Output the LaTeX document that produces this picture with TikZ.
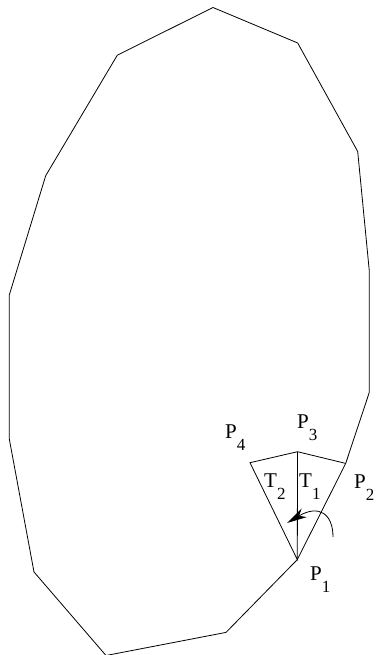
\documentclass[tikz,border=0pt]{standalone}
\usepackage{fontspec}
\setmainfont{Liberation Serif}
\usetikzlibrary{arrows.meta}
\newcommand{\sublbl}[2]{#1\raisebox{-12pt}{\fontsize{17}{17}\selectfont #2}}
\tikzset{
  outline/.style={line width=0.8pt, black, line join=miter},
  edge/.style={line width=0.8pt, black},
  vlabel/.style={font=\fontsize{21}{21}\selectfont, anchor=base west, inner sep=0pt},
  turn/.style={-{Stealth[length=20pt, width=10pt, inset=6pt]}, line width=0.8pt},
}
\begin{document}
\begin{tikzpicture}[x=1pt, y=-1pt]
\useasboundingbox (0,0) rectangle (375,655);
% outer polygon
\foreach \n/\p in {a/{213,7.5}, b/{297.7,43}, c/{357.7,151.5}, d/{369.3,271}, e/{369.3,392.3},
                   f/{345.7,463.4}, g/{297.3,559.6}, h/{226,632.4}, i/{106,655.5}, j/{34,572},
                   k/{9.3,439}, l/{9.3,295}, m/{45.7,175.7}, n/{117.3,55.2}}
  \coordinate (\n) at (\p);
\draw[outline] (a) -- (b) -- (c) -- (d) -- (e) -- (f) -- (g) -- (h) -- (i) -- (j) -- (k) -- (l) -- (m) -- (n) -- cycle;
% the two triangles
\coordinate (P1) at (g);
\coordinate (P2) at (f);
\coordinate (P3) at (297.5,451.7);
\coordinate (P4) at (250,462.7);
\draw[edge] (P2) -- (P3) -- (P4) -- (P1) -- (P3);
% labels
\node[vlabel] (p4) at (225,438) {\sublbl{P}{4}};
\node[vlabel] (p3) at (297,428) {\sublbl{P}{3}};
\node[vlabel] (p2) at (354,488) {\sublbl{P}{2}};
\node[vlabel] (p1) at (310,580) {\sublbl{P}{1}};
\node[vlabel] (t2) at (264,487) {\sublbl{T}{2}};
\node[vlabel] (t1) at (299,487) {\sublbl{T}{1}};
% orientation arrow
\coordinate (rs) at (333,537);
\coordinate (re) at (287,523);
\draw[turn] (rs) .. controls (333,514) and (319,504) .. (re);
\end{tikzpicture}
\end{document}
